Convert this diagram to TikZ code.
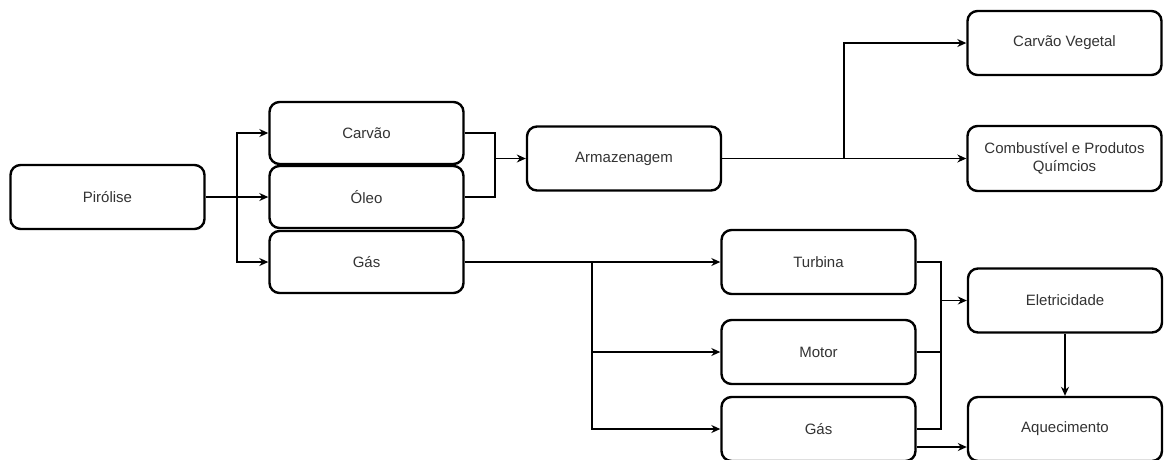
\documentclass[tikz,border=0pt]{standalone}
\usepackage{fontspec}
\setmainfont{Liberation Sans}
\usetikzlibrary{arrows.meta}
\definecolor{txt}{HTML}{333333}
\begin{document}
\begin{tikzpicture}[x=1pt,y=-1pt,
  box/.style={draw=black, line width=2.4pt, rounded corners=10pt, fill=white,
    minimum width=194pt, minimum height=64pt, inner sep=0pt, align=center,
    text=txt, font=\fontsize{15}{18}\selectfont},
  conn/.style={draw=black, line width=1.3pt, -{Stealth[length=9pt,width=8pt]}},
  plain/.style={draw=black, line width=1.3pt}]
\useasboundingbox[fill=white] (0,0) rectangle (1164,459);

\node[box] (pir) at (107.5,197) {Pirólise};
\node[box, minimum height=62pt] (carvao) at (366.5,133) {Carvão};
\node[box, minimum height=62pt] (oleo) at (366.5,197) {Óleo};
\node[box, minimum height=62pt] (gas) at (366.5,262) {Gás};
\node[box] (arm) at (624,158.5) {Armazenagem};
\node[box] (cv) at (1064.5,43) {Carvão Vegetal};
\node[box, minimum height=65pt] (comb) at (1064.5,158.5) {Combustível e Produtos\\Químcios};
\node[box] (turb) at (818.5,262) {Turbina};
\node[box] (motor) at (818.5,352) {Motor};
\node[box] (gas2) at (818.5,429) {Gás};
\node[box] (elet) at (1065,300.5) {Eletricidade};
\node[box] (aqu) at (1065,429) {Aquecimento};

\coordinate (j1) at (237,197);
\coordinate (j2) at (495,158.5);
\coordinate (j3) at (844,158.5);
\coordinate (j4) at (592,262);
\coordinate (j5) at (941,300.5);

\draw[conn] (pir.east) -- (oleo.west);
\draw[conn] (j1) |- (carvao.west);
\draw[conn] (j1) |- (gas.west);

\draw[plain] (carvao.east) -| (j2);
\draw[plain] (oleo.east) -| (j2);
\draw[conn] (j2) -- (arm.west);

\draw[conn] (arm.east) -- (comb.west);
\draw[conn] (j3) |- (cv.west);

\draw[conn] (gas.east) -- (turb.west);
\draw[conn] (j4) |- (motor.west);
\draw[conn] (j4) |- (gas2.west);

\draw[plain] (turb.east) -| (j5);
\draw[plain] (motor.east) -| (j5);
\draw[plain] (gas2.east) -| (j5);
\draw[conn] (j5) -- (elet.west);

\draw[conn] (elet.south) -- (aqu.north);
\draw[conn] ([yshift=-18pt]gas2.east) -- ([yshift=-18pt]aqu.west);
\end{tikzpicture}
\end{document}
